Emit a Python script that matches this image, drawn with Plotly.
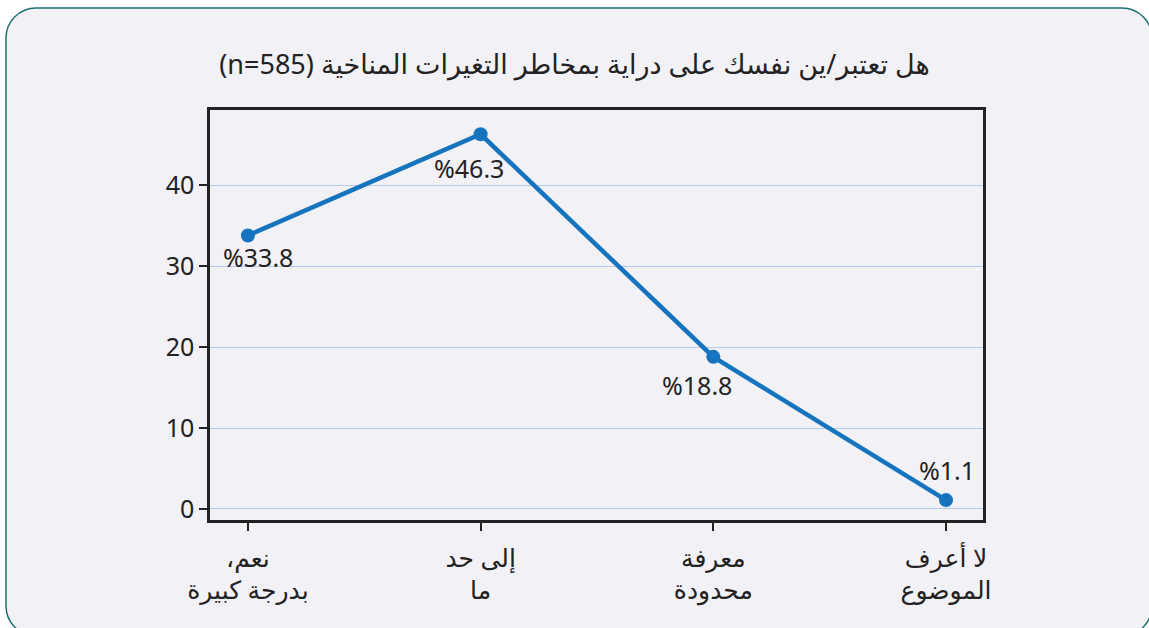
import plotly.graph_objects as go

RLE, PDF = "\u202b", "\u202c"

categories = ["نعم،<br>بدرجة كبيرة", "إلى حد<br>ما", "معرفة<br>محدودة", "لا أعرف<br>الموضوع"]
values = [33.8, 46.3, 18.8, 1.1]
labels = ["%33.8", "%46.3", "%18.8", "%1.1"]
title_text = "هل تعتبر/ين نفسك على دراية بمخاطر التغيرات المناخية (n=585)"
y_ticks = [0, 10, 20, 30, 40]

# label offsets in pixels (styling)
label_dx = [10, -12, -16, 1]
label_dy = [-22, -34, -28, 30]

tick_text = ["<br>".join(RLE + part + PDF for part in c.split("<br>")) for c in categories]

W, H = 1149, 628
L, R, T, B = 210, 983, 110, 520

def px(x):
    return (x - L) / (R - L)

def py(y):
    return (B - y) / (B - T)

x0, y0, x1, y1, r = 6, 8, 1152, 636, 30
k = 0.45
path = (
    f"M {px(x0 + r)},{py(y0)} L {px(x1 - r)},{py(y0)} "
    f"C {px(x1 - r * k)},{py(y0)} {px(x1)},{py(y0 + r * k)} {px(x1)},{py(y0 + r)} "
    f"L {px(x1)},{py(y1 - r)} "
    f"C {px(x1)},{py(y1 - r * k)} {px(x1 - r * k)},{py(y1)} {px(x1 - r)},{py(y1)} "
    f"L {px(x0 + r)},{py(y1)} "
    f"C {px(x0 + r * k)},{py(y1)} {px(x0)},{py(y1 - r * k)} {px(x0)},{py(y1 - r)} "
    f"L {px(x0)},{py(y0 + r)} "
    f"C {px(x0)},{py(y0 + r * k)} {px(x0 + r * k)},{py(y0)} {px(x0 + r)},{py(y0)} Z"
)

FONT = "Noto Sans, DejaVu Sans, sans-serif"
xs = list(range(len(categories)))

fig = go.Figure()
fig.add_trace(go.Scatter(
    x=xs, y=values, mode="lines+markers",
    line=dict(color="#1574bd", width=4.5),
    marker=dict(color="#1574bd", size=14),
    hoverinfo="skip",
))

annotations = [
    dict(x=x, y=v, xref="x", yref="y", text=t, showarrow=False,
         xshift=dx, yshift=dy, font=dict(size=25, color="#222222", family=FONT))
    for x, v, t, dx, dy in zip(xs, values, labels, label_dx, label_dy)
]

fig.update_layout(
    width=W, height=H,
    margin=dict(l=L, r=W - R, t=T, b=H - B),
    paper_bgcolor="white",
    plot_bgcolor="#f2f1f6",
    showlegend=False,
    font=dict(family=FONT, size=25, color="#222222"),
    title=dict(text=RLE + title_text + PDF, x=0.5, xanchor="center", y=1 - 65 / H, yanchor="middle",
               font=dict(size=27, color="#222222")),
    shapes=[dict(type="path", xref="paper", yref="paper", path=path,
                 fillcolor="#f2f1f6", line=dict(color="#1d6e6e", width=1.5), layer="below")],
    annotations=annotations,
)

fig.update_xaxes(
    range=[-0.163, 3.159], tickvals=xs, ticktext=tick_text,
    showgrid=False, zeroline=False,
    showline=True, linecolor="#222222", linewidth=2.5, mirror=True,
    ticks="outside", ticklen=8, tickwidth=2, tickcolor="#222222",
    tickfont=dict(size=25), ticklabelstandoff=6,
)
fig.update_yaxes(
    range=[-1.36, 49.3], tickvals=y_ticks, showgrid=True, gridcolor="#b3c9ea", gridwidth=1,
    zeroline=False, showline=True, linecolor="#222222", linewidth=2.5, mirror=True,
    ticks="outside", ticklen=8, tickwidth=2, tickcolor="#222222",
    tickfont=dict(size=25),
)

fig.write_html("out.html", config={"displayModeBar": False},
               post_script="document.body.style.margin='0';")
